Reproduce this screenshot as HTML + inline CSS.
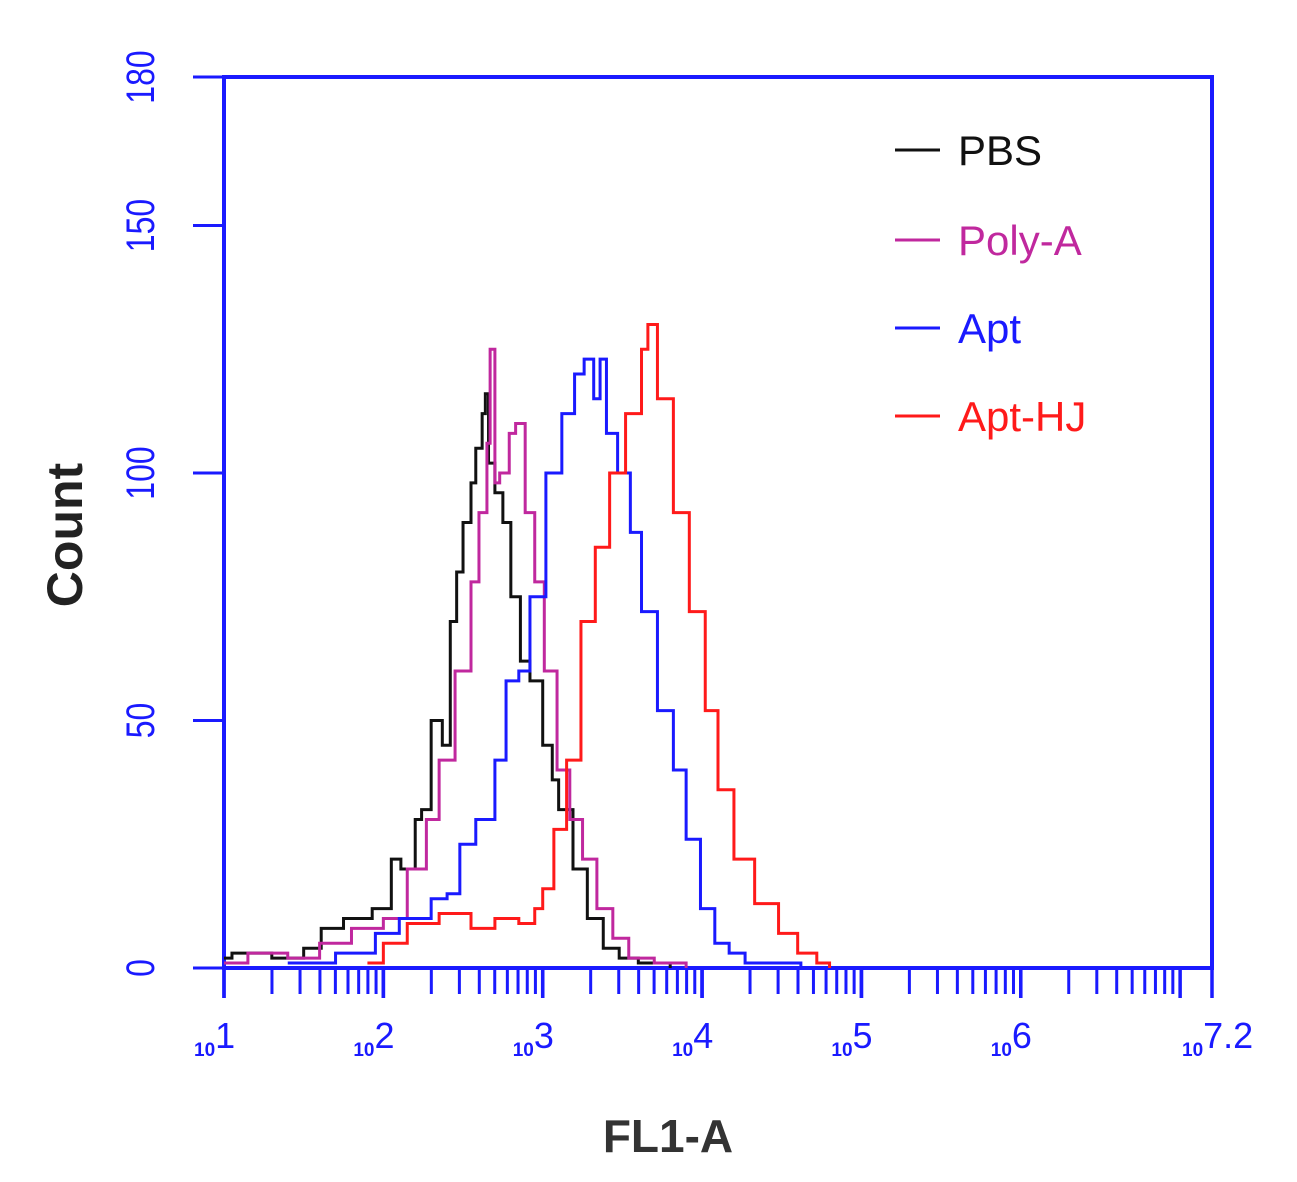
<!DOCTYPE html>
<html><head><meta charset="utf-8"><style>
body{margin:0;background:#fff;}
svg{display:block;font-family:"Liberation Sans",sans-serif;}
</style></head><body>
<svg id="chart" width="1297" height="1182" viewBox="0 0 1297 1182" xmlns="http://www.w3.org/2000/svg">
<g id="axes"></g>
<g id="series"></g>
<g id="legend"></g>
<text transform="translate(82,535) rotate(-90)" text-anchor="middle" font-size="50" font-weight="bold" fill="#222">Count</text>
<text x="668" y="1152" text-anchor="middle" font-size="46" font-weight="bold" fill="#333">FL1-A</text>
</svg>
<script>
const yTicks=[0,50,100,150,180];
const xDecades=[1,2,3,4,5,6,7.2];
const seriesNames=["PBS","Poly-A","Apt","Apt-HJ"];
const seriesColors=["#111111","#c0289e","#1a1aff","#ff1a1a"];
// x values are log10(FL1-A); y values are counts
const pbsX=[1.0,1.05,1.3,1.5,1.61,1.75,1.93,2.05,2.11,2.2,2.24,2.3,2.37,2.42,2.46,2.5,2.55,2.58,2.62,2.64,2.66,2.7,2.75,2.8,2.86,2.92,3.0,3.06,3.1,3.19,3.28,3.38,3.48,3.6,3.8];
const pbsY=[2,3,2,4,8,10,12,22,20,30,32,50,45,70,80,90,98,105,112,116,102,96,90,75,62,58,45,38,32,20,10,4,2,1,0];
const polyX=[1.0,1.15,1.4,1.6,1.8,2.0,2.15,2.27,2.35,2.45,2.55,2.6,2.65,2.67,2.7,2.73,2.79,2.83,2.89,2.95,3.01,3.09,3.17,3.25,3.34,3.44,3.54,3.7,3.9];
const polyY=[1,3,2,5,8,10,20,30,42,60,78,92,106,125,98,100,108,110,92,78,60,40,30,22,12,6,2,1,0];
const aptX=[1.4,1.7,1.95,2.1,2.3,2.4,2.48,2.58,2.7,2.77,2.85,2.92,3.02,3.12,3.2,3.26,3.32,3.36,3.4,3.47,3.55,3.62,3.72,3.82,3.9,3.99,4.08,4.17,4.27,4.42,4.62];
const aptY=[1,3,7,10,14,15,25,30,42,58,60,75,100,112,120,123,115,123,108,100,88,72,52,40,26,12,5,3,1,1,0];
const hjX=[1.9,2.0,2.15,2.35,2.55,2.7,2.85,2.95,3.0,3.07,3.15,3.24,3.33,3.42,3.52,3.62,3.66,3.72,3.82,3.92,4.02,4.1,4.2,4.33,4.48,4.6,4.72,4.8];
const hjY=[1,5,9,11,8,10,9,12,16,28,42,70,85,100,112,125,130,115,92,72,52,36,22,13,7,3,1,0];
const seriesX=[pbsX,polyX,aptX,hjX];
const seriesY=[pbsY,polyY,aptY,hjY];

const NS="http://www.w3.org/2000/svg";
const L=224,R=1212,T=77,B=968,xMin=1,xMax=7.2,yMax=180;
const AX="#1a1aff";
function xs(v){return L+(v-xMin)/(xMax-xMin)*(R-L);}
function ys(v){return B-v/yMax*(B-T);}
function mk(tag,attrs,parent){const e=document.createElementNS(NS,tag);for(const k in attrs)e.setAttribute(k,attrs[k]);parent.appendChild(e);return e;}
const axes=document.getElementById('axes');
const frame=mk('rect',{x:L,y:T,width:R-L,height:B-T,fill:'none',stroke:AX,'stroke-width':4},axes);


yTicks.forEach(t=>{
  const y=ys(t);
  const tk=mk('line',{x1:193,x2:L,y1:y,y2:y,stroke:AX,'stroke-width':3},axes);
  
  
  const lb=mk('text',{transform:`translate(154,${y}) rotate(-90) scale(1,1.25)`,'text-anchor':'middle','font-size':32,fill:AX},axes);
  lb.textContent=t;
  
  
});
for(let d=1;d<7.2;d++){
  for(let m=1;m<10;m++){
    const v=d+Math.log10(m);
    if(v>7.2)break;
    const x=xs(v);
    const tk=mk('line',{x1:x,x2:x,y1:B,y2:B+(m===1?30:26),stroke:AX,'stroke-width':m===1?3.5:3},axes);
    
    
  }
}
xDecades.forEach(d=>{
  const x=xs(d);
  const tk=mk('line',{x1:x,x2:x,y1:B,y2:B+30,stroke:AX,'stroke-width':3.5},axes);
  
  
  const lb=mk('text',{x:x-30,y:1056,'text-anchor':'start',fill:AX,'font-weight':'bold'},axes);
  
  
  const s1=mk('tspan',{'font-size':19},lb);s1.textContent='10';
  const s2=mk('tspan',{'font-size':36,'font-weight':'normal',dy:-8},lb);s2.textContent=String(d);
});
const sg=document.getElementById('series');
seriesNames.forEach((n,i)=>{
  const X=seriesX[i],Y=seriesY[i];
  let d='';
  for(let k=0;k<X.length;k++){
    const x=xs(X[k]),y=ys(Y[k]);
    if(k===0)d+=`M${x},${y}`;else d+=`V${y}`;
    const xn=k<X.length-1?xs(X[k+1]):x;
    d+=`H${xn}`;
  }
  const p=mk('path',{d:d,fill:'none',stroke:seriesColors[i],'stroke-width':3,'stroke-linejoin':'miter'},sg);
  
  
});
const lg=document.getElementById('legend');
const ly=[150,240,328,416];
seriesNames.forEach((n,i)=>{
  const ln=mk('line',{x1:895,x2:940,y1:ly[i],y2:ly[i],stroke:seriesColors[i],'stroke-width':3},lg);
  
  
  const t=mk('text',{x:958,y:ly[i]+15,'font-size':42,fill:seriesColors[i]},lg);
  t.textContent=n;
  
  
});
</script>
</body></html>
